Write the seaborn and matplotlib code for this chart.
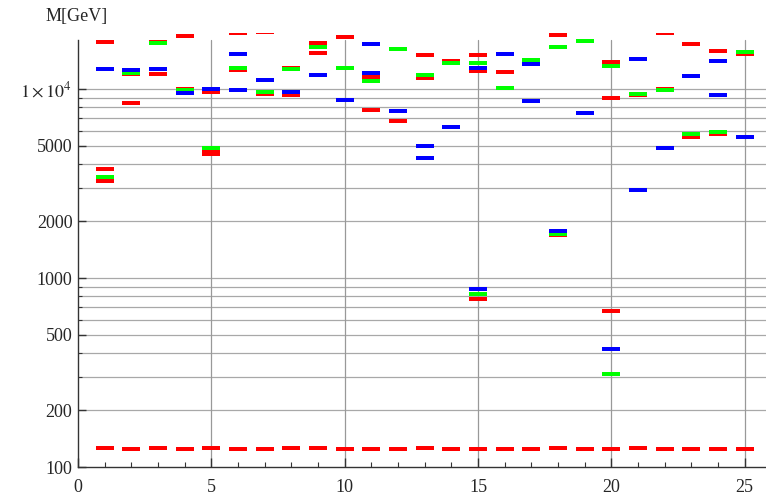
import numpy as np
import pandas as pd
import matplotlib
matplotlib.use("Agg")
import matplotlib.pyplot as plt
import seaborn as sns

# masses, one list per colour (x = benchmark point)
red_x = [1, 1, 1, 2, 2, 3, 3, 4, 4, 5, 5, 5, 6, 6, 7, 7, 8, 8, 9, 9, 10,
         11, 11, 12, 13, 13, 14, 15, 15, 15, 16, 18, 18, 19, 20, 20, 20,
         21, 22, 22, 23, 23, 24, 24, 25]
red_m = [17700, 3760, 3250, 8460, 11950, 17800, 12000, 19060, 10000,
         9600, 4700, 4530, 19800, 12600, 20100, 9410, 13000, 9260,
         17450, 15570, 18770, 11620, 7770, 6800, 15130, 11430, 14000,
         15130, 12420, 771, 12300, 19240, 1685, 20400, 13850, 8960, 669,
         9250, 19700, 10000, 17370, 5570, 15940, 5760, 15350]

green_x = [1, 2, 3, 4, 5, 6, 7, 8, 9, 10, 11, 12, 13, 14, 15, 15, 16, 17,
           18, 18, 19, 20, 20, 21, 22, 23, 24, 25]
green_m = [3410, 12110, 17500, 9900, 4890, 12920, 9680, 12800, 16640,
           12970, 11070, 16280, 11820, 13780, 13720, 827, 10160, 14240,
           16690, 1710, 17900, 13300, 309, 9440, 9840, 5760, 5923, 15640]

blue_x = [1, 2, 3, 4, 5, 6, 6, 7, 8, 9, 10, 11, 11, 12, 13, 13, 14, 15, 15,
          16, 17, 17, 18, 19, 20, 21, 21, 22, 23, 24, 24, 25]
blue_m = [12700, 12600, 12700, 9490, 10040, 15260, 9880, 11160, 9640,
          11860, 8745, 17370, 12200, 7680, 5010, 4300, 6295, 12970, 877,
          15260, 13610, 8640, 1779, 7490, 420, 14420, 2912, 4890, 11670,
          14060, 9300, 5590]

# light Higgs, one per point
higgs_x = list(range(1, 26))
higgs_m = [125.3, 125.0, 125.7, 124.6, 125.8, 124.6, 125.0, 125.3, 125.3,
           124.8, 124.8, 125.0, 125.5, 125.0, 124.8, 124.8, 124.8, 125.5,
           125.0, 124.8, 125.5, 124.8, 124.6, 124.8, 125.0]

ytick_major = [100, 200, 500, 1000, 2000, 5000, 10000]
ytick_labels = ["100", "200", "500", "1000", "2000", "5000", r"$1\times10^{4}$"]
ytick_minor = [300, 400, 600, 700, 800, 900, 3000, 4000, 6000, 7000, 8000, 9000]
xtick_major = [0, 5, 10, 15, 20, 25]

df = pd.concat([
    pd.DataFrame({"x": red_x + higgs_x, "mass": red_m + higgs_m, "kind": "red"}),
    pd.DataFrame({"x": green_x, "mass": green_m, "kind": "green"}),
    pd.DataFrame({"x": blue_x, "mass": blue_m, "kind": "blue"}),
], ignore_index=True)

sns.set_style("white")
plt.rcParams["font.family"] = ["Liberation Serif", "DejaVu Serif"]
plt.rcParams["mathtext.fontset"] = "stix"

fig = plt.figure(figsize=(7.66, 4.99), dpi=100)
ax = fig.add_axes([78 / 766, 32 / 499, 688 / 766, 434 / 499])

ymin, ymax, ytop_axis = 100, 19800, 18160
xmax = 25.8

ax.set_yscale("log")
ax.set_xlim(0, xmax)
ax.set_ylim(ymin, ymax)

# grid lines
grid_c = "#a8a8a8"
for v in ytick_major[1:] + ytick_minor:
    ax.axhline(v, color=grid_c, lw=0.9, zorder=0)
frac = np.log(ytop_axis / ymin) / np.log(ymax / ymin)
for v in xtick_major[1:]:
    ax.axvline(v, ymin=0, ymax=frac, color="#999999", lw=0.9, zorder=0)

bar = [(-9, -2), (9, -2), (9, 2), (-9, 2), (-9, -2)]
sns.scatterplot(data=df, x="x", y="mass", hue="kind",
                palette={"red": "#ff0000", "green": "#00ff00", "blue": "#0000ff"},
                marker=bar, s=168, linewidth=0, legend=False, ax=ax, zorder=3)

ax.set_xlabel("")
ax.set_ylabel("")
ax.set_yticks(ytick_major)
ax.set_yticklabels(ytick_labels)
ax.set_yticks(ytick_minor, minor=True)
ax.set_yticklabels([], minor=True)
ax.set_xticks(xtick_major)
ax.set_xticklabels([str(v) for v in xtick_major])
ax.set_xticks(range(0, 26), minor=True)

for s in ["top", "right"]:
    ax.spines[s].set_visible(False)
for s in ["left", "bottom"]:
    ax.spines[s].set_color("#333333")
    ax.spines[s].set_linewidth(1.0)
ax.spines["left"].set_bounds(ymin, ytop_axis)

ax.tick_params(axis="y", which="major", direction="in", length=5.5, width=1,
               color="#333333", labelsize=13, pad=4, left=True)
ax.tick_params(axis="y", which="minor", direction="in", length=3, width=0.8,
               color="#333333", left=True)
ax.tick_params(axis="x", which="major", direction="in", length=6.5, width=1,
               color="#333333", labelsize=13, pad=9, bottom=True)
ax.tick_params(axis="x", which="minor", direction="in", length=3.5, width=0.8,
               color="#333333", bottom=True)

fig.text(77 / 766, 1 - 17 / 499, "M[GeV]", ha="center", va="center", fontsize=13)

fig.savefig("out.png", dpi=100)
